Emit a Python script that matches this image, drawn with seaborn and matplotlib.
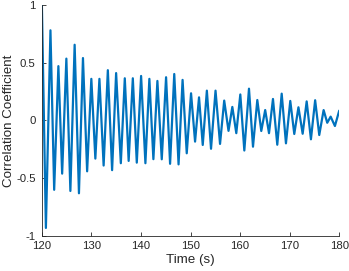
import numpy as np
import pandas as pd
import matplotlib
matplotlib.use('Agg')
import matplotlib.pyplot as plt
import seaborn as sns

# Peaks and troughs (time in s, coefficient)
time_s = [120.0, 120.81, 121.73, 122.48, 123.33, 124.09, 124.94, 125.75, 126.61, 127.48,
          128.29, 129.13, 129.98, 130.79, 131.61, 132.46, 133.31, 134.17, 134.98, 135.93,
          136.73, 137.51, 138.35, 139.15, 140.02, 140.89, 141.69, 142.5, 143.31, 144.19,
          145.06, 145.87, 146.71, 147.58, 148.39, 149.23, 150.1, 150.91, 151.71, 152.46,
          153.29, 154.13, 155.04, 155.95, 156.79, 157.66, 158.43, 159.23, 160.04, 160.85,
          161.79, 162.6, 163.47, 164.27, 165.06, 165.83, 166.63, 167.5, 168.39, 169.25,
          170.12, 170.93, 171.77, 172.62, 173.43, 174.29, 175.14, 175.97, 176.85, 177.58,
          178.27, 179.13, 180.0]
corr_coef = [1.0, -0.93, 0.78, -0.60, 0.47, -0.46, 0.535, -0.61, 0.655, -0.63,
             0.54, -0.44, 0.36, -0.33, 0.36, -0.39, 0.435, -0.43, 0.41, -0.37,
             0.365, -0.35, 0.365, -0.365, 0.385, -0.37, 0.36, -0.335, 0.342, -0.336,
             0.374, -0.375, 0.402, -0.38, 0.351, -0.284, 0.235, -0.183, 0.2, -0.212,
             0.258, -0.245, 0.258, -0.203, 0.172, -0.09, 0.117, -0.11, 0.225, -0.26,
             0.275, -0.227, 0.177, -0.091, 0.09, -0.11, 0.186, -0.21, 0.232, -0.198,
             0.169, -0.117, 0.114, -0.115, 0.165, -0.163, 0.175, -0.126, 0.09, -0.02,
             0.033, -0.048, 0.085]

x_ticks = [120, 130, 140, 150, 160, 170, 180]
y_ticks = [-1, -0.5, 0, 0.5, 1]
y_tick_labels = ['-1', '-0.5', '0', '0.5', '1']

df = pd.DataFrame({'t': time_s, 'r': corr_coef})

sns.set_style('ticks')
plt.rcParams['font.family'] = ['Liberation Sans', 'DejaVu Sans']

fig = plt.figure(figsize=(3.49, 2.71), dpi=100)
ax = fig.add_axes([0.12, 0.129, 0.852, 0.853])

sns.lineplot(data=df, x='t', y='r', color='#0072BD', linewidth=1.6, ax=ax)

ax.set_xlim(120, 180)
ax.set_ylim(-1, 1)
ax.set_xticks(x_ticks)
ax.set_yticks(y_ticks)
ax.set_yticklabels(y_tick_labels)
ax.tick_params(direction='in', length=3, width=0.6, colors='#262626', labelsize=8.2)
ax.tick_params(axis='y', pad=4.5)
ax.tick_params(axis='x', pad=3.5)
for side in ['left', 'bottom']:
    ax.spines[side].set_color('#262626')
    ax.spines[side].set_linewidth(0.6)
sns.despine(ax=ax)

ax.set_xlabel('Time (s)', fontsize=9.6, color='#262626', labelpad=2)
ax.set_ylabel('Correlation Coefficient', fontsize=9.6, color='#262626', labelpad=1)

fig.savefig('out.png', dpi=100)
